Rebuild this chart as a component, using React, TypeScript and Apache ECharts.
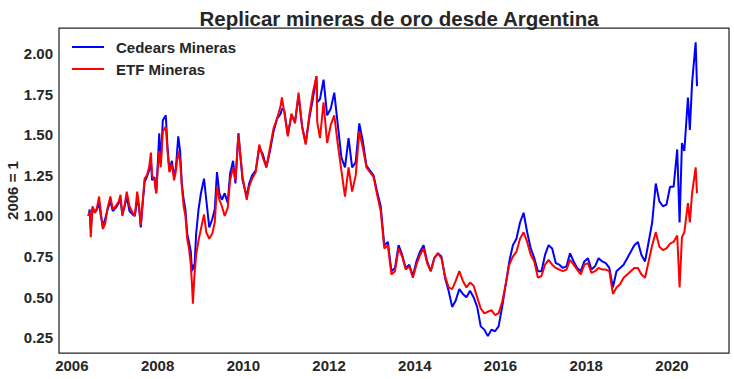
import React, { useEffect, useRef } from "react";
import * as echarts from "echarts";

const TITLE = "Replicar mineras de oro desde Argentina";
const Y_NAME = "2006 = 1";
const SERIES_NAMES = ["Cedears Mineras", "ETF Mineras"];
const X_TICKS = [2006, 2008, 2010, 2012, 2014, 2016, 2018, 2020];
const Y_TICKS = [0.25, 0.5, 0.75, 1.0, 1.25, 1.5, 1.75, 2.0];

const dates = [
  "2006-05-20", "2006-06-01", "2006-06-10", "2006-06-25", "2006-07-15", "2006-08-01", "2006-08-20", "2006-09-05", "2006-09-20",
  "2006-10-10", "2006-11-01", "2006-11-25", "2006-12-15",
  "2007-01-10", "2007-02-05", "2007-02-20", "2007-03-05", "2007-03-25", "2007-04-12", "2007-05-05", "2007-06-01", "2007-06-20",
  "2007-07-10", "2007-07-25", "2007-08-10", "2007-08-25", "2007-09-12", "2007-10-01", "2007-10-20", "2007-11-05", "2007-11-15",
  "2007-12-05", "2007-12-20",
  "2008-01-05", "2008-01-15", "2008-01-28", "2008-02-15", "2008-03-10", "2008-03-25", "2008-04-10", "2008-05-01", "2008-05-20",
  "2008-06-05", "2008-06-25", "2008-07-10", "2008-07-25", "2008-08-10", "2008-08-25", "2008-09-10", "2008-09-25", "2008-10-10",
  "2008-10-20", "2008-10-28", "2008-11-10", "2008-11-25", "2008-12-15",
  "2009-01-05", "2009-02-01", "2009-02-20", "2009-03-15", "2009-04-10", "2009-05-01", "2009-05-20", "2009-06-10", "2009-07-01",
  "2009-07-25", "2009-08-20", "2009-09-10", "2009-10-05", "2009-10-25", "2009-11-20", "2009-12-10", "2009-12-25",
  "2010-01-30", "2010-02-20", "2010-03", "2010-04", "2010-05", "2010-06", "2010-07", "2010-08", "2010-09", "2010-10", "2010-11", "2010-11-25", "2010-12",
  "2011-01", "2011-02", "2011-03", "2011-04", "2011-05", "2011-06", "2011-07", "2011-08", "2011-09", "2011-09-22", "2011-10", "2011-11", "2011-12",
  "2012-01", "2012-02", "2012-03", "2012-04", "2012-05", "2012-06", "2012-07", "2012-08", "2012-09", "2012-10", "2012-11", "2012-12",
  "2013-01", "2013-02", "2013-03", "2013-04", "2013-05", "2013-06", "2013-07", "2013-08", "2013-09", "2013-10", "2013-11", "2013-12",
  "2014-01", "2014-02", "2014-03", "2014-04", "2014-05", "2014-06", "2014-07", "2014-08", "2014-09", "2014-10", "2014-11", "2014-12",
  "2015-01", "2015-02", "2015-03", "2015-04", "2015-05", "2015-06", "2015-07", "2015-08", "2015-09", "2015-10", "2015-11", "2015-12",
  "2016-01", "2016-02", "2016-03", "2016-04", "2016-05", "2016-06", "2016-07", "2016-08", "2016-09", "2016-10", "2016-11", "2016-12",
  "2017-01", "2017-02", "2017-03", "2017-04", "2017-05", "2017-06", "2017-07", "2017-08", "2017-09", "2017-10", "2017-11", "2017-12",
  "2018-01", "2018-02", "2018-03", "2018-04", "2018-05", "2018-06", "2018-07", "2018-08", "2018-09", "2018-10", "2018-11", "2018-12",
  "2019-01", "2019-02", "2019-03", "2019-04", "2019-05", "2019-06", "2019-07", "2019-08", "2019-09", "2019-10", "2019-11", "2019-12",
  "2020-01", "2020-02", "2020-03-05", "2020-03-25", "2020-04", "2020-05", "2020-06-01", "2020-06-20", "2020-07-20", "2020-08-01",
];

const cedears = [
  1.0, 1.04, 0.92, 1.05, 1.02, 1.04, 1.08, 1.0, 0.94,
  0.98, 1.04, 1.09, 1.03,
  1.05, 1.08, 1.1, 1.01, 1.06, 1.12, 1.03, 1.01, 1.0,
  1.1, 1.06, 0.93, 1.07, 1.21, 1.24, 1.28, 1.34, 1.22,
  1.24, 1.14,
  1.36, 1.51, 1.32, 1.59, 1.62, 1.42, 1.28, 1.34, 1.24,
  1.3, 1.49, 1.4, 1.2, 1.1, 1.04, 0.89, 0.84, 0.78,
  0.66, 0.7, 0.67, 0.89, 1.04,
  1.14, 1.23, 1.1, 0.93, 0.98, 1.04, 1.27, 1.14, 1.1,
  1.14, 1.08, 1.26, 1.34, 1.2, 1.51, 1.34, 1.22,
  1.12, 1.2, 1.25, 1.28, 1.42, 1.38, 1.3, 1.4, 1.52, 1.6, 1.63, 1.66, 1.65,
  1.5, 1.62, 1.58, 1.74, 1.55, 1.45, 1.6, 1.72, 1.86, 1.7, 1.72, 1.84, 1.62,
  1.66, 1.76, 1.56, 1.36, 1.3, 1.48, 1.3, 1.33, 1.57, 1.46, 1.31, 1.28,
  1.25, 1.15, 1.06, 0.82, 0.84, 0.66, 0.68, 0.82, 0.76, 0.68, 0.7, 0.63,
  0.72, 0.78, 0.82, 0.72, 0.66, 0.74, 0.77, 0.75, 0.62, 0.54, 0.44, 0.48,
  0.55, 0.52, 0.5, 0.54, 0.5, 0.44, 0.32, 0.3, 0.26, 0.3, 0.29, 0.32,
  0.44, 0.58, 0.72, 0.82, 0.86, 0.96, 1.02, 0.9, 0.8, 0.74, 0.66, 0.66,
  0.76, 0.82, 0.8, 0.71, 0.7, 0.68, 0.69, 0.77, 0.72, 0.68, 0.66, 0.72,
  0.74, 0.67, 0.69, 0.74, 0.72, 0.71, 0.68, 0.56, 0.66, 0.68, 0.7, 0.74,
  0.78, 0.82, 0.84, 0.76, 0.72, 0.84, 0.96, 1.2, 1.09, 1.06, 1.07, 1.18,
  1.18, 1.41, 0.96, 1.45, 1.4, 1.73, 1.53, 1.82, 2.07, 1.8,
];

const etf = [
  1.0, 1.03, 0.87, 1.06, 1.02, 1.05, 1.12, 1.02, 0.92,
  0.95, 1.05, 1.12, 1.04,
  1.06, 1.09, 1.13, 1.0, 1.07, 1.15, 1.06, 1.02, 1.0,
  1.15, 1.07, 0.94, 1.08, 1.23, 1.25, 1.3, 1.39, 1.25,
  1.22, 1.14,
  1.32, 1.4, 1.3, 1.52, 1.55, 1.4, 1.27, 1.32, 1.22,
  1.28, 1.4, 1.34, 1.18, 1.06, 1.0, 0.86, 0.8, 0.7,
  0.58, 0.46, 0.63, 0.76, 0.85,
  0.92, 1.01, 0.9, 0.86, 0.89, 0.96, 1.18, 1.1, 1.06,
  1.0, 1.05, 1.22, 1.3, 1.22, 1.5, 1.35, 1.24,
  1.1, 1.18, 1.23, 1.27, 1.44, 1.36, 1.3, 1.42, 1.54, 1.6, 1.68, 1.73, 1.64,
  1.49, 1.63, 1.57, 1.76, 1.55, 1.44, 1.62, 1.76, 1.86, 1.58, 1.48, 1.7, 1.45,
  1.56, 1.62, 1.44, 1.28, 1.12, 1.3, 1.15, 1.25, 1.52, 1.42, 1.3, 1.27,
  1.24, 1.13, 1.03, 0.8, 0.82, 0.64, 0.66, 0.8, 0.75, 0.67, 0.69, 0.62,
  0.7, 0.76, 0.8, 0.71, 0.66, 0.74, 0.77, 0.74, 0.63, 0.56, 0.55, 0.6,
  0.66, 0.6, 0.56, 0.59, 0.57, 0.5, 0.43, 0.4, 0.41, 0.42, 0.39, 0.4,
  0.47, 0.58, 0.7, 0.75, 0.78, 0.86, 0.9, 0.84, 0.76, 0.72, 0.62, 0.63,
  0.7, 0.73, 0.7, 0.68, 0.67, 0.66, 0.67, 0.73, 0.7, 0.67, 0.64, 0.7,
  0.71, 0.65, 0.66, 0.68, 0.67, 0.67, 0.66, 0.52, 0.56, 0.58, 0.62, 0.64,
  0.66, 0.68, 0.68, 0.64, 0.62, 0.72, 0.82, 0.9, 0.81, 0.79, 0.8, 0.83,
  0.84, 0.88, 0.56, 0.87, 0.9, 1.08, 0.96, 1.14, 1.3, 1.14,
];

const FONT = "'Liberation Sans', Arial, sans-serif";
const TEXT = "#262626";

function toYear(s: string): number {
  const [y, m, d] = s.split("-").map(Number);
  const day = d === undefined ? 15 : d;
  return y + (m - 1) / 12 + (day - 1) / 365;
}

export default function App() {
  const ref = useRef<HTMLDivElement>(null);

  useEffect(() => {
    document.body.style.margin = "0";
    if (!ref.current) return;
    const chart = echarts.init(ref.current, null, { renderer: "svg", width: 734, height: 379 });
    const blueData = dates.map((d, i) => [toYear(d), cedears[i]]);
    const redData = dates.map((d, i) => [toYear(d), etf[i]]);
    const tickFont = { fontFamily: FONT, fontSize: 15, fontWeight: "bold" as const, color: TEXT };
    chart.setOption({
      animation: false,
      backgroundColor: "#ffffff",
      title: {
        text: TITLE,
        left: 394,
        textAlign: "center",
        top: 3,
        textStyle: { fontFamily: FONT, fontSize: 20.5, fontWeight: "bold", color: TEXT },
      },
      legend: {
        data: SERIES_NAMES,
        orient: "vertical",
        left: 67,
        top: 33,
        itemWidth: 32,
        itemHeight: 2,
        itemGap: 4,
        icon: "rect",
        textStyle: { ...tickFont, padding: [0, 0, 0, 7], lineHeight: 18 },
      },
      grid: {
        left: 59,
        right: 5,
        top: 28,
        bottom: 26,
        outerBoundsMode: "none",
        containLabel: false,
        show: true,
        borderColor: "#262626",
        borderWidth: 1.25,
        backgroundColor: "#ffffff",
      },
      xAxis: {
        type: "value",
        min: 2005.7,
        max: 2021.33,
        axisLine: { show: false },
        axisTick: { show: false },
        splitLine: { show: false },
        axisLabel: {
          customValues: X_TICKS,
          formatter: (v: number) => String(Math.round(v)),
          ...tickFont,
          margin: 5,
        },
      },
      yAxis: {
        type: "value",
        min: 0.156,
        max: 2.158,
        name: Y_NAME,
        nameLocation: "middle",
        nameGap: 39,
        nameMoveOverlap: false,
        nameRotate: 90,
        nameTextStyle: tickFont,
        axisLine: { show: false },
        axisTick: { show: false },
        splitLine: { show: false },
        axisLabel: {
          customValues: Y_TICKS,
          formatter: (v: number) => v.toFixed(2),
          ...tickFont,
          margin: 6,
        },
      },
      series: [
        {
          name: SERIES_NAMES[0],
          type: "line",
          data: blueData,
          symbol: "none",
          color: "#0000ff",
          lineStyle: { width: 2, color: "#0000ff" },
        },
        {
          name: SERIES_NAMES[1],
          type: "line",
          data: redData,
          symbol: "none",
          color: "#ff0000",
          lineStyle: { width: 2, color: "#ff0000" },
        },
      ],
    });
    return () => chart.dispose();
  }, []);

  return <div ref={ref} style={{ width: 734, height: 379 }} />;
}
